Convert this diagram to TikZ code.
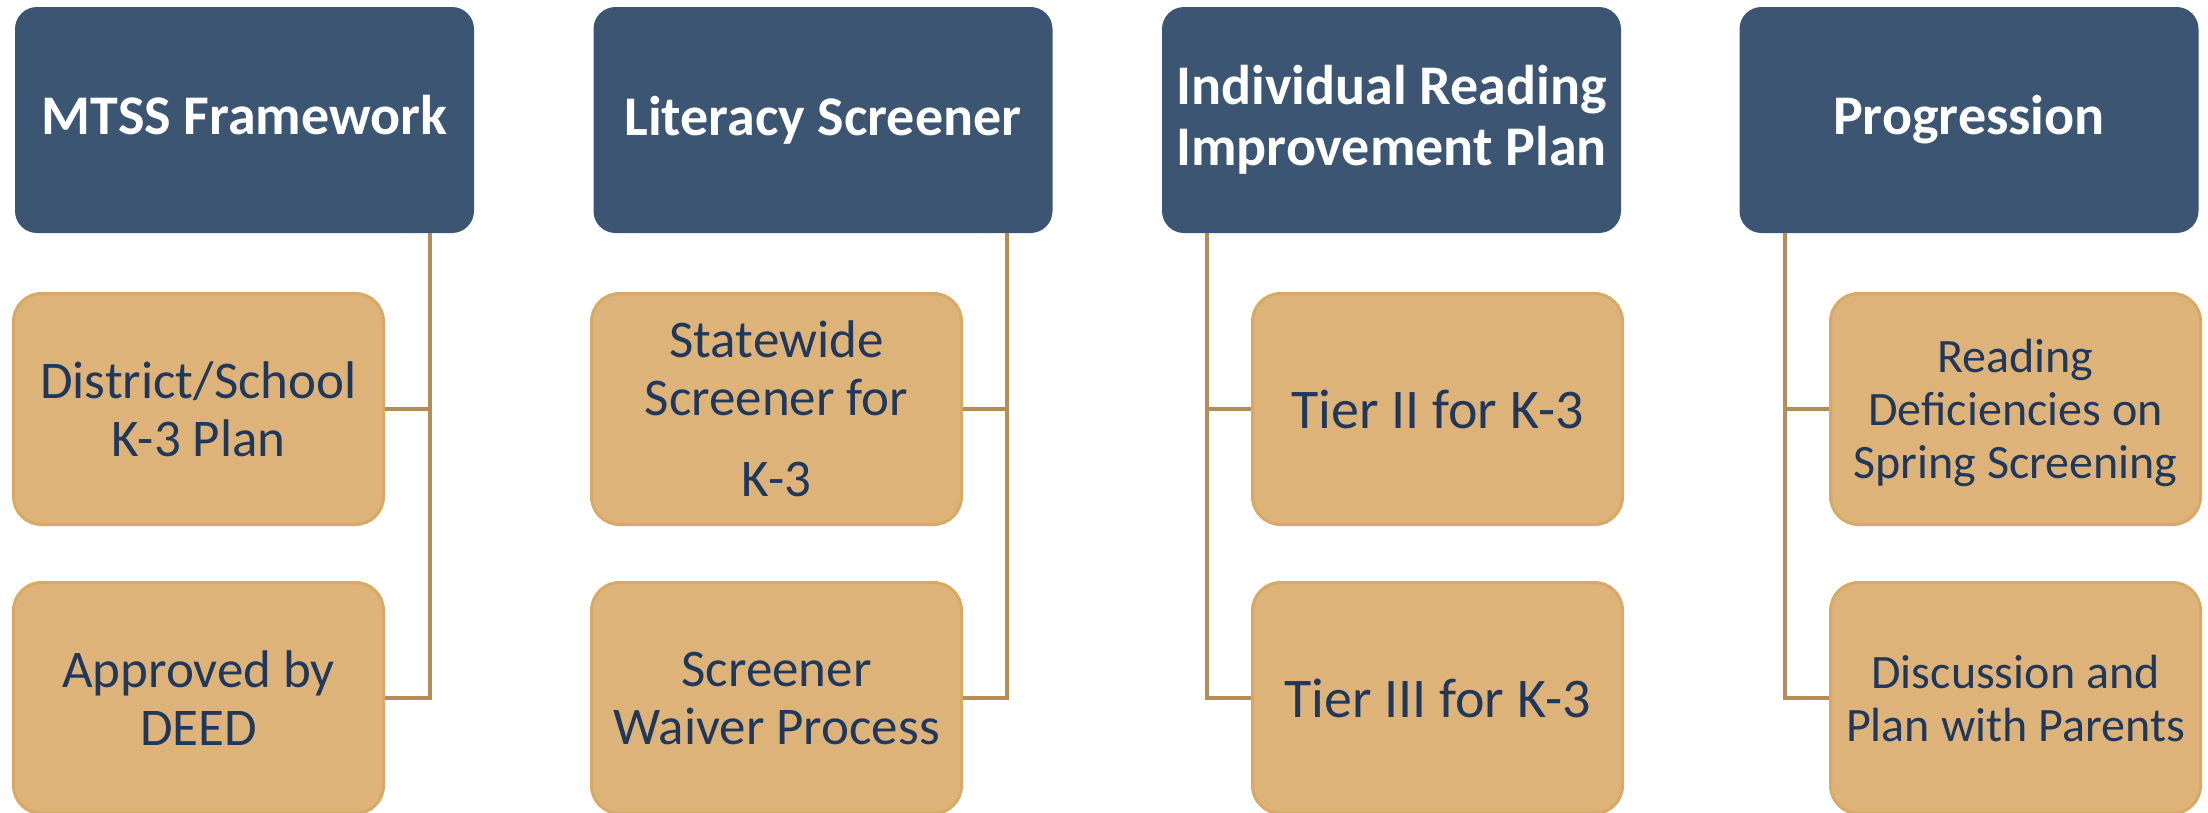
\documentclass[tikz,border=0pt]{standalone}
\usepackage{fontspec}
\setmainfont{Carlito}
\usetikzlibrary{calc}
\definecolor{hdr}{RGB}{60,85,115}
\definecolor{chl}{RGB}{222,179,121}
\definecolor{chlb}{RGB}{216,168,101}
\definecolor{txt}{RGB}{31,56,92}
\definecolor{con}{RGB}{181,140,86}
\begin{document}
\begin{tikzpicture}[x=1pt,y=-1pt,
  hdrbox/.style={fill=hdr, rounded corners=22pt, minimum width=459pt, minimum height=226pt,
    inner sep=0pt, text=white, font=\fontsize{56}{61}\selectfont\bfseries, align=center},
  chlbox/.style={fill=chl, draw=chlb, line width=3pt, rounded corners=28pt,
    minimum width=370pt, minimum height=231pt, inner sep=0pt, text=txt,
    font=\fontsize{53}{58}\selectfont, align=center},
  tierfont/.style={font=\fontsize{56}{61}\selectfont},
  smallfont/.style={font=\fontsize{48}{53}\selectfont},
  conn/.style={draw=con, line width=4pt}]
\useasboundingbox (0,0) rectangle (2208,812);

% headers
\node[hdrbox] (h1) at (244.5,120) {MTSS Framework\vphantom{gy}};
\node[hdrbox] (h2) at (823,120) {Literacy Screener};
\node[hdrbox] (h3) at (1391.5,120) {Individual Reading\\Improvement Plan};
\node[hdrbox] (h4) at (1969,120) {Progression};

% children
\node[chlbox] (c11) at (198.5,409) {District/School\\K-3 Plan};
\node[chlbox] (c12) at (198.5,698) {Approved by\\DEED};
\node[chlbox] (c21) at (776.5,409) {Statewide\\Screener for\\[23pt]K-3};
\node[chlbox] (c22) at (776.5,698) {Screener\\Waiver Process};
\node[chlbox, tierfont] (c31) at (1437.5,409) {Tier II for K-3};
\node[chlbox, tierfont] (c32) at (1437.5,698) {Tier III for K-3};
\node[chlbox, smallfont] (c41) at (2015.5,409) {\rule{0pt}{42pt}Reading\\Deficiencies on\\Spring Screening};
\node[chlbox, smallfont] (c42) at (2015.5,698) {Discussion and\\Plan with Parents};

% trunks
\coordinate (t1) at (430,233);
\coordinate (t2) at (1007,233);
\coordinate (t3) at (1207,233);
\coordinate (t4) at (1785,233);

\draw[conn] (t1) |- (c12.east);
\draw[conn] (c11.east) -- (c11.east -| t1);
\draw[conn] (t2) |- (c22.east);
\draw[conn] (c21.east) -- (c21.east -| t2);
\draw[conn] (t3) |- (c32.west);
\draw[conn] (c31.west) -- (c31.west -| t3);
\draw[conn] (t4) |- (c42.west);
\draw[conn] (c41.west) -- (c41.west -| t4);
\end{tikzpicture}
\end{document}
